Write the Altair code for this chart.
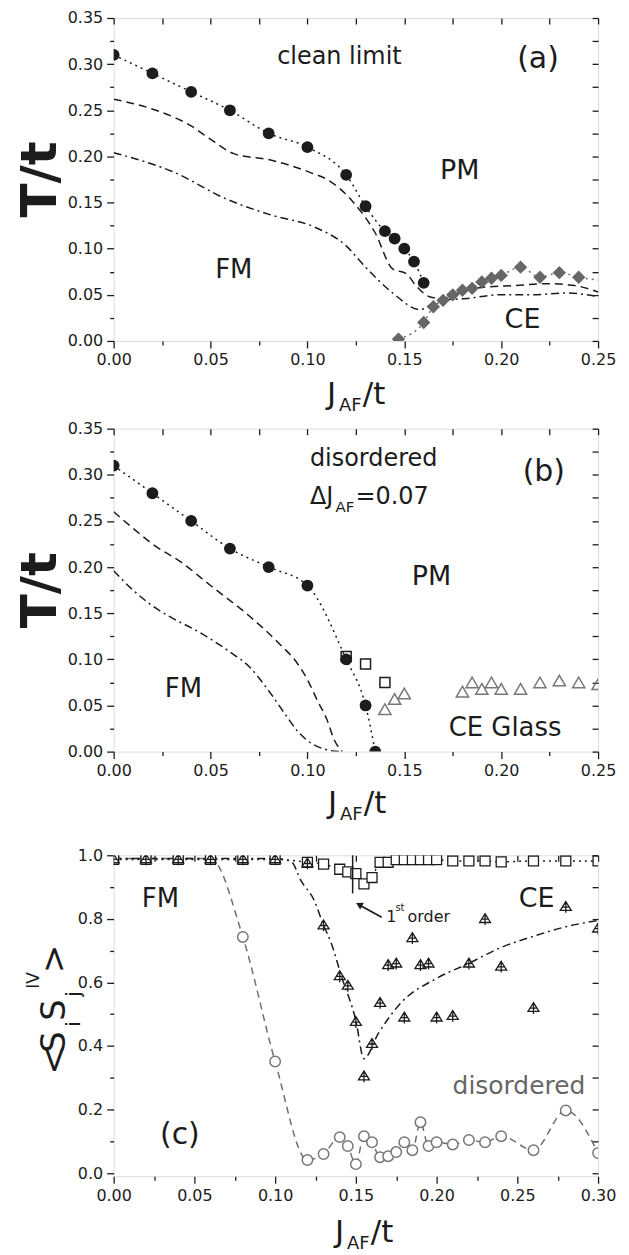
import altair as alt
import pandas as pd

FONT = "DejaVu Sans"
INK = "#1c1c1c"
GRAY = "#6f6f6f"

# ---------------- panel (a): clean limit ----------------
A_CIRC_X = [0.00, 0.02, 0.04, 0.06, 0.08, 0.10, 0.12, 0.13, 0.14, 0.145, 0.15, 0.155, 0.16]
A_CIRC_T = [0.310, 0.290, 0.270, 0.250, 0.225, 0.210, 0.180, 0.146, 0.119, 0.111, 0.100, 0.086, 0.063]
A_DIAM_X = [0.147, 0.16, 0.165, 0.17, 0.175, 0.18, 0.185, 0.19, 0.195, 0.20, 0.21, 0.22, 0.23, 0.24]
A_DIAM_T = [0.002, 0.020, 0.037, 0.044, 0.050, 0.055, 0.057, 0.064, 0.068, 0.071, 0.080, 0.069, 0.074, 0.069]
A_DLINE_X = [0.147, 0.16, 0.165, 0.17, 0.175, 0.18, 0.185, 0.19, 0.195, 0.20, 0.21, 0.22, 0.23, 0.24, 0.25]
A_DLINE_T = [0.002, 0.020, 0.037, 0.044, 0.050, 0.055, 0.057, 0.064, 0.068, 0.071, 0.080, 0.069, 0.074, 0.069, 0.066]
A_DASH_X = [0.0, 0.019, 0.04, 0.051, 0.062, 0.081, 0.101, 0.111, 0.123, 0.135, 0.144, 0.151, 0.156, 0.163,
            0.17, 0.175, 0.19, 0.207, 0.224, 0.238, 0.25]
A_DASH_T = [0.262, 0.252, 0.233, 0.217, 0.203, 0.196, 0.183, 0.174, 0.152, 0.117, 0.078, 0.073, 0.060, 0.048,
            0.046, 0.050, 0.058, 0.060, 0.062, 0.060, 0.053]
A_DD_X = [0.0, 0.031, 0.058, 0.082, 0.103, 0.12, 0.13, 0.144, 0.158, 0.168, 0.182, 0.199, 0.216, 0.233, 0.25]
A_DD_T = [0.204, 0.183, 0.154, 0.136, 0.124, 0.103, 0.080, 0.052, 0.034, 0.044, 0.046, 0.050, 0.050, 0.052, 0.048]

# ---------------- panel (b): disordered ----------------
B_CIRC_X = [0.00, 0.02, 0.04, 0.06, 0.08, 0.10, 0.12, 0.13, 0.135]
B_CIRC_T = [0.310, 0.280, 0.250, 0.220, 0.200, 0.180, 0.100, 0.050, 0.000]
B_SQ_X = [0.12, 0.13, 0.14]
B_SQ_T = [0.103, 0.095, 0.075]
B_TRI_X = [0.14, 0.145, 0.15, 0.18, 0.185, 0.19, 0.195, 0.20, 0.21, 0.22, 0.23, 0.24, 0.25]
B_TRI_T = [0.046, 0.057, 0.063, 0.065, 0.075, 0.068, 0.075, 0.068, 0.068, 0.075, 0.077, 0.075, 0.073]
B_DASH_X = [0.0, 0.01, 0.02, 0.035, 0.05, 0.07, 0.085, 0.095, 0.10, 0.105, 0.11, 0.114, 0.118]
B_DASH_T = [0.260, 0.242, 0.225, 0.205, 0.180, 0.147, 0.118, 0.095, 0.078, 0.056, 0.035, 0.012, 0.000]
B_DD_X = [0.0, 0.01, 0.02, 0.03, 0.042, 0.05, 0.06, 0.07, 0.08, 0.088, 0.095, 0.10, 0.11, 0.117]
B_DD_T = [0.196, 0.175, 0.158, 0.145, 0.132, 0.122, 0.108, 0.092, 0.066, 0.042, 0.022, 0.012, 0.002, 0.000]

# ---------------- panel (c): <S_i S_j> ----------------
C_X = [0.00, 0.02, 0.04, 0.06, 0.08, 0.10, 0.12, 0.13, 0.14, 0.145, 0.15, 0.155, 0.16, 0.165, 0.17,
       0.175, 0.18, 0.185, 0.19, 0.195, 0.20, 0.21, 0.22, 0.23, 0.24, 0.26, 0.28, 0.30]
C_SQ = [0.987, 0.987, 0.987, 0.987, 0.987, 0.987, 0.978, 0.972, 0.956, 0.948, 0.942, 0.910, 0.930, 0.978,
        0.978, 0.986, 0.986, 0.986, 0.986, 0.986, 0.986, 0.982, 0.982, 0.982, 0.979, 0.982, 0.982, 0.982]
C_TRI = [0.988, 0.988, 0.988, 0.988, 0.988, 0.988, 0.975, 0.780, 0.620, 0.590, 0.476, 0.305, 0.407, 0.536,
         0.655, 0.660, 0.490, 0.740, 0.655, 0.660, 0.490, 0.495, 0.660, 0.800, 0.650, 0.520, 0.838, 0.770]
C_CIRC = [0.990, 0.990, 0.990, 0.990, 0.743, 0.351, 0.041, 0.060, 0.113, 0.085, 0.028, 0.116, 0.097, 0.050,
          0.053, 0.066, 0.097, 0.072, 0.160, 0.085, 0.097, 0.090, 0.104, 0.097, 0.116, 0.072, 0.197, 0.063]
C_FIT_X = [0.0, 0.05, 0.10, 0.11, 0.116, 0.124, 0.13, 0.135, 0.141, 0.15, 0.155, 0.164, 0.178, 0.199,
           0.22, 0.24, 0.26, 0.28, 0.30]
C_FIT_S = [0.990, 0.990, 0.990, 0.980, 0.920, 0.860, 0.780, 0.720, 0.620, 0.480, 0.360, 0.440, 0.536, 0.610,
           0.660, 0.710, 0.745, 0.775, 0.795]

# tick positions
X_TICKS_25 = [0.0, 0.025, 0.05, 0.075, 0.10, 0.125, 0.15, 0.175, 0.20, 0.225, 0.25]
X_TICKS_30 = [0.0, 0.025, 0.05, 0.075, 0.10, 0.125, 0.15, 0.175, 0.20, 0.225, 0.25, 0.275, 0.30]
Y_TICKS_T = [0.0, 0.025, 0.05, 0.075, 0.10, 0.125, 0.15, 0.175, 0.20, 0.225, 0.25, 0.275, 0.30, 0.325, 0.35]
Y_TICKS_S = [0.0, 0.1, 0.2, 0.3, 0.4, 0.5, 0.6, 0.7, 0.8, 0.9, 1.0]

W = 486
H_AB = 324
H_C = 322
LEFT_EXT = 108
RIGHT_EXT = 22
TOP_EXT = 10

TRI_PLUS = "M0,-0.85L0.9,0.6L-0.9,0.6Z M0,-0.85L0,1 M-0.5,0.05L0.5,0.05"


def major_test(mult):
    return f"abs(datum.value*{mult} - round(datum.value*{mult})) < 0.01"


def main_axis(orient, ticks, mult, fmt):
    test = major_test(mult)
    return alt.Axis(
        orient=orient, values=ticks,
        labelExpr=f"{test} ? format(datum.value, '{fmt}') : ''",
        tickSize={"condition": {"test": test, "value": 7}, "value": 4},
        tickColor=INK, tickWidth=1.3, domain=False, grid=False, title=None,
        labelFont=FONT, labelFontSize=16, labelColor=INK, labelPadding=4,
        labelFlush=False, labelOverlap=False,
    )


def mirror_axis(orient, ticks):
    return alt.Axis(
        orient=orient, values=ticks, labels=False, tickSize=6, offset=-6,
        tickColor=INK, tickWidth=1.3, domain=False, grid=False, title=None,
    )


def sc(dom):
    return alt.Scale(domain=dom, nice=False, zero=False)


def df(xs, ys):
    return pd.DataFrame({"x": xs, "y": ys})


def enc(chart, xs, ys):
    return chart.encode(x=alt.X("x:Q", scale=xs, axis=None), y=alt.Y("y:Q", scale=ys, axis=None))


def line(d, xs, ys, dash, color=INK, width=1.5):
    return enc(alt.Chart(d).mark_line(strokeDash=dash, color=color, strokeWidth=width,
                                      interpolate="monotone", clip=True), xs, ys)


def pts(d, xs, ys, shape, size, filled, color, fill=None, width=1.4):
    kw = dict(shape=shape, size=size, filled=filled, strokeWidth=width, clip=True, opacity=1)
    if filled:
        kw["color"] = color
    else:
        kw["stroke"] = color
        if fill is not None:
            kw["fill"] = fill
            kw["fillOpacity"] = 1
    return enc(alt.Chart(d).mark_point(**kw), xs, ys)


def txt(s, x, y, size, xs=None, ys=None, align="center", color=INK, weight="normal", angle=0, px=False):
    ch = alt.Chart(pd.DataFrame({"t": [s]})).mark_text(
        text=s, font=FONT, fontSize=size, align=align, baseline="alphabetic",
        color=color, fontWeight=weight, angle=angle)
    if px:
        return ch.encode(x=alt.value(x), y=alt.value(y))
    return ch.encode(x=alt.X(datum=x, type="quantitative", scale=xs, axis=None),
                     y=alt.Y(datum=y, type="quantitative", scale=ys, axis=None))


def extent(bottom):
    # invisible box fixing each panel's outer bounds so the plot areas line up
    return alt.Chart(pd.DataFrame({"t": [0]})).mark_rule(strokeOpacity=0, strokeWidth=0.1).encode(
        x=alt.value(-LEFT_EXT), x2=alt.value(W + RIGHT_EXT), y=alt.value(-TOP_EXT), y2=alt.value(bottom))


def axes_layers(xs, ys, xticks, yticks, xmult, ymult, xfmt, yfmt, xdom, ydom):
    d = df([xdom[0]], [ydom[0]])
    base = alt.Chart(d).mark_point(opacity=0).encode(
        x=alt.X("x:Q", scale=xs, axis=main_axis("bottom", xticks, xmult, xfmt)),
        y=alt.Y("y:Q", scale=ys, axis=main_axis("left", yticks, ymult, yfmt)))
    mirror = alt.Chart(d).mark_point(opacity=0).encode(
        x=alt.X("x:Q", scale=xs, axis=mirror_axis("top", xticks)),
        y=alt.Y("y:Q", scale=ys, axis=mirror_axis("right", yticks)))
    return [base, mirror]


def xtitle(xj, yb, size=31):
    return [txt("J", xj, yb, size, px=True, align="left"),
            txt("AF", xj + 12, yb + 7, 18, px=True, align="left"),
            txt("/t", xj + 36, yb, size, px=True, align="left")]


# ---------------- build (a) ----------------
xa, ya = sc([0, 0.25]), sc([0, 0.35])
layers_a = axes_layers(xa, ya, X_TICKS_25, Y_TICKS_T, 20, 20, ".2f", ".2f", [0, 0.25], [0, 0.35])
layers_a += [
    extent(H_AB + 76),
    line(df(A_DD_X, A_DD_T), xa, ya, [8, 4, 2, 4]),
    line(df(A_DASH_X, A_DASH_T), xa, ya, [8, 5]),
    line(df(A_CIRC_X, A_CIRC_T), xa, ya, [2, 4]),
    line(df(A_DLINE_X, A_DLINE_T), xa, ya, [2, 4], color=GRAY),
    pts(df(A_CIRC_X, A_CIRC_T), xa, ya, "circle", 140, True, INK),
    pts(df(A_DIAM_X, A_DIAM_T), xa, ya, "diamond", 180, True, "#666666"),
    txt("clean limit", 0.1165, 0.300, 24, xa, ya),
    txt("(a)", 0.219, 0.296, 30, xa, ya),
    txt("PM", 0.1786, 0.176, 27, xa, ya),
    txt("FM", 0.062, 0.068, 26, xa, ya),
    txt("CE", 0.211, 0.014, 27, xa, ya),
    txt("T/t", -58, H_AB / 2, 50, px=True, angle=270, weight="bold"),
]
layers_a += xtitle(214, H_AB + 63)
pa = alt.layer(*layers_a).resolve_axis(x="independent", y="independent").properties(width=W, height=H_AB)

# ---------------- build (b) ----------------
xb, yb = sc([0, 0.25]), sc([0, 0.35])
layers_b = axes_layers(xb, yb, X_TICKS_25, Y_TICKS_T, 20, 20, ".2f", ".2f", [0, 0.25], [0, 0.35])
layers_b += [
    extent(H_AB + 92),
    line(df(B_DD_X, B_DD_T), xb, yb, [8, 4, 2, 4]),
    line(df(B_DASH_X, B_DASH_T), xb, yb, [8, 5]),
    line(df(B_CIRC_X, B_CIRC_T), xb, yb, [2, 4]),
    pts(df(B_CIRC_X, B_CIRC_T), xb, yb, "circle", 140, True, INK),
    pts(df(B_SQ_X, B_SQ_T), xb, yb, "square", 100, False, INK, width=1.5),
    pts(df(B_TRI_X, B_TRI_T), xb, yb, "triangle-up", 150, False, "#777777", width=1.5),
    txt("disordered", 0.1013, 0.309, 24, xb, yb, align="left"),
    txt("\u0394J", 0.1013, 0.268, 24, xb, yb, align="left"),
    txt("AF", 0.1145, 0.260, 15, xb, yb, align="left"),
    txt("=0.07", 0.1248, 0.268, 24, xb, yb, align="left"),
    txt("(b)", 0.222, 0.293, 30, xb, yb),
    txt("PM", 0.164, 0.181, 27, xb, yb),
    txt("FM", 0.036, 0.059, 26, xb, yb),
    txt("CE Glass", 0.202, 0.017, 26, xb, yb),
    txt("T/t", -58, H_AB / 2, 50, px=True, angle=270, weight="bold"),
]
layers_b += xtitle(215, H_AB + 62)
pb = alt.layer(*layers_b).resolve_axis(x="independent", y="independent").properties(width=W, height=H_AB)

# ---------------- build (c) ----------------
xc, yc = sc([0, 0.30]), sc([-0.01, 1.0])
layers_c = axes_layers(xc, yc, X_TICKS_30, Y_TICKS_S, 20, 5, ".2f", ".1f", [0, 0.30], [-0.01, 1.0])
layers_c += [
    extent(H_C + 76),
    line(df(C_X, C_CIRC), xc, yc, [7, 5], color=GRAY),
    line(df(C_FIT_X, C_FIT_S), xc, yc, [8, 4, 2, 4]),
    line(df(C_X, C_SQ), xc, yc, [2, 4]),
    pts(df(C_X, C_CIRC), xc, yc, "circle", 110, False, "#777777", fill="white", width=1.5),
    pts(df(C_X, C_SQ), xc, yc, "square", 100, False, INK, fill="white", width=1.3),
    pts(df(C_X, C_TRI), xc, yc, TRI_PLUS, 150, False, INK, width=1.3),
    alt.Chart(pd.DataFrame({"t": [0]})).mark_rule(color=INK, strokeWidth=1.5).encode(
        x=alt.X(datum=0.148, type="quantitative", scale=xc, axis=None),
        y=alt.Y(datum=0.88, type="quantitative", scale=yc, axis=None),
        y2=alt.Y2(datum=1.0)),
    alt.Chart(pd.DataFrame({"t": [0]})).mark_rule(color=INK, strokeWidth=1.8).encode(
        x=alt.X(datum=0.166, type="quantitative", scale=xc, axis=None),
        y=alt.Y(datum=0.805, type="quantitative", scale=yc, axis=None),
        x2=alt.X2(datum=0.153), y2=alt.Y2(datum=0.841)),
    alt.Chart(pd.DataFrame({"t": [0]})).mark_point(shape="triangle-up", filled=True, color=INK,
                                                   size=60, angle=298, opacity=1).encode(
        x=alt.X(datum=0.152, type="quantitative", scale=xc, axis=None),
        y=alt.Y(datum=0.845, type="quantitative", scale=yc, axis=None)),
    txt("1", 0.1688, 0.79, 16, xc, yc, align="left"),
    txt("st", 0.1745, 0.824, 10, xc, yc, align="left"),
    txt("order", 0.182, 0.79, 16, xc, yc, align="left"),
    txt("FM", 0.029, 0.837, 26, xc, yc),
    txt("CE", 0.262, 0.837, 27, xc, yc),
    txt("(c)", 0.041, 0.091, 30, xc, yc),
    txt("disordered", 0.251, 0.248, 25, xc, yc, color="#666666"),
    # y title  <S_i S_j^IV>
    txt("<", -49, 220, 34, px=True, angle=270, align="left"),
    txt("S", -49, 198, 34, px=True, angle=270, align="left"),
    txt("i", -34, 172, 20, px=True, angle=270, align="left"),
    txt("S", -49, 166, 34, px=True, angle=270, align="left"),
    txt("j", -34, 142, 20, px=True, angle=270, align="left"),
    txt("IV", -75, 134, 17, px=True, angle=270, align="left"),
    txt(">", -49, 118, 34, px=True, angle=270, align="left"),
]
layers_c += xtitle(222, H_C + 66)
pc = alt.layer(*layers_c).resolve_axis(x="independent", y="independent").properties(width=W, height=H_C)

chart = (
    alt.vconcat(pa, pb, pc, spacing=0)
    .properties(padding={"left": -3, "top": -3, "right": 0, "bottom": 0}, background="white")
    .configure_view(stroke=INK, strokeWidth=1.5)
    .configure(font=FONT)
)

chart.save("out.html", embed_options={"renderer": "svg", "actions": False})
